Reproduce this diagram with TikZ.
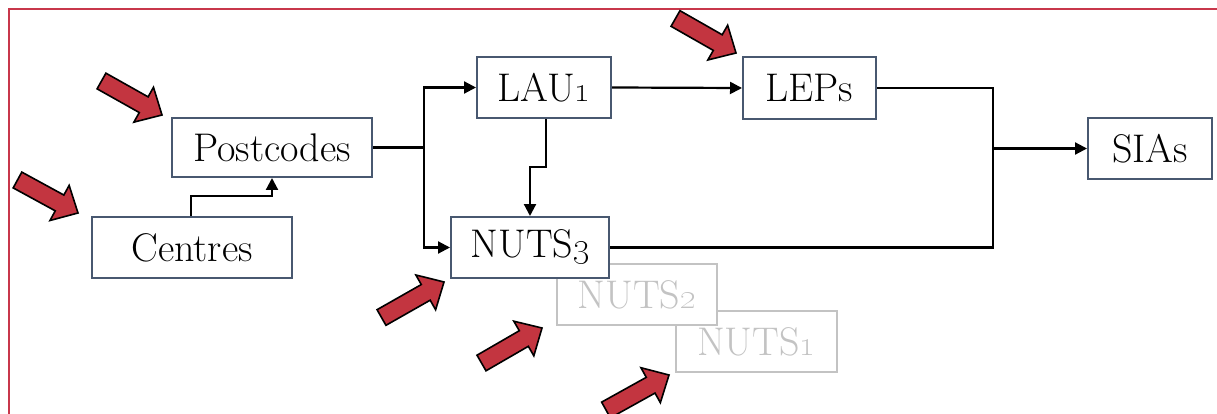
\documentclass[tikz,border=0pt]{standalone}
\usetikzlibrary{arrows.meta,calc}

\definecolor{framered}{RGB}{200,55,75}
\definecolor{boxline}{RGB}{72,88,112}
\definecolor{fadegray}{RGB}{195,195,195}
\definecolor{arrowred}{RGB}{195,53,64}

\tikzset{
  unit/.style={font=\fontsize{40}{44}\selectfont, fill=white, inner sep=0pt, line width=2pt},
  mainbox/.style={unit, draw=boxline, text=black},
  fadedbox/.style={unit, draw=fadegray, text=fadegray},
  link/.style={draw=black, line width=2.2pt},
  flow/.style={link, -{Triangle[length=12pt,width=12pt]}},
  blockarrow/.style={fill=arrowred, draw=black, line width=1.6pt, line join=miter},
}

% red block arrow from tail centre #1 to tip #2
\newcommand\pointer[2]{%
  \coordinate (hb) at ($(#2)!21pt!(#1)$);
  \path[blockarrow]
    ($(#1)!9pt!90:(#2)$) -- ($(hb)!9pt!-90:(#1)$) -- ($(hb)!20pt!-90:(#1)$)
    -- (#2) -- ($(hb)!20pt!90:(#1)$) -- ($(hb)!9pt!90:(#1)$)
    -- ($(#1)!9pt!-90:(#2)$) -- cycle;
}

\begin{document}
\begin{tikzpicture}[x=1pt,y=-1pt]
  \useasboundingbox (0,0) rectangle (1217,414);
  \clip (0,0) rectangle (1217,414);

  % surrounding frame
  \draw[framered, line width=2pt] (8.5,9.5) rectangle (1260,460);

  % faded lower NUTS levels, stacked behind NUTS3
  \node[fadedbox, minimum width=161pt, minimum height=61pt] (nuts1) at (756.5,341.5) {NUTS\oldstylenums{1}};
  \node[fadedbox, minimum width=160pt, minimum height=61pt] (nuts2) at (637,294.5) {NUTS\oldstylenums{2}};

  % main boxes
  \node[mainbox, minimum width=200pt, minimum height=59pt] (post) at (272,147.5) {Postcodes};
  \node[mainbox, minimum width=200pt, minimum height=61pt] (cent) at (192,247.5) {Centres};
  \node[mainbox, minimum width=134pt, minimum height=61pt] (lau) at (544,87.5) {LAU\oldstylenums{1}};
  \node[mainbox, minimum width=158pt, minimum height=61pt] (nuts3) at (530,247.5) {NUTS\oldstylenums{3}};
  \node[mainbox, minimum width=133pt, minimum height=62pt] (leps) at (809.5,88) {LEPs};
  \node[mainbox, minimum width=124pt, minimum height=61pt] (sias) at (1150,148.5) {SIAs};

  % junctions
  \coordinate (jl) at (424,147.5);
  \coordinate (jr) at (993,148.5);
  \coordinate (cu) at (191,196);
  \coordinate (lu) at (546,167);

  % connectors
  \draw[flow] (cent.north -| cu) -- (cu) -| (post.south);
  \draw[link] (post.east) -- (jl);
  \draw[flow] (jl) |- (lau.west);
  \draw[flow] (jl) |- (nuts3.west);
  \draw[flow] (lau.south -| lu) -- (lu) -| (nuts3.north);
  \draw[flow] (lau.east) -- (leps.west);
  \draw[link] (leps.east) -| (jr);
  \draw[link] (nuts3.east) -| (jr);
  \draw[flow] (jr) -- (sias.west);

  % red pointers
  \coordinate (t1) at (101.5,81);   \coordinate (p1) at (162,115);
  \coordinate (t2) at (17.5,180);   \coordinate (p2) at (78,213);
  \coordinate (t3) at (675.5,18.5); \coordinate (p3) at (736,53);
  \coordinate (t4) at (381.5,317.5);\coordinate (p4) at (444,282);
  \coordinate (t5) at (481.5,363);  \coordinate (p5) at (542,328);
  \coordinate (t6) at (606,410);    \coordinate (p6) at (669,375);
  \pointer{t1}{p1}
  \pointer{t2}{p2}
  \pointer{t3}{p3}
  \pointer{t4}{p4}
  \pointer{t5}{p5}
  \pointer{t6}{p6}
\end{tikzpicture}
\end{document}
